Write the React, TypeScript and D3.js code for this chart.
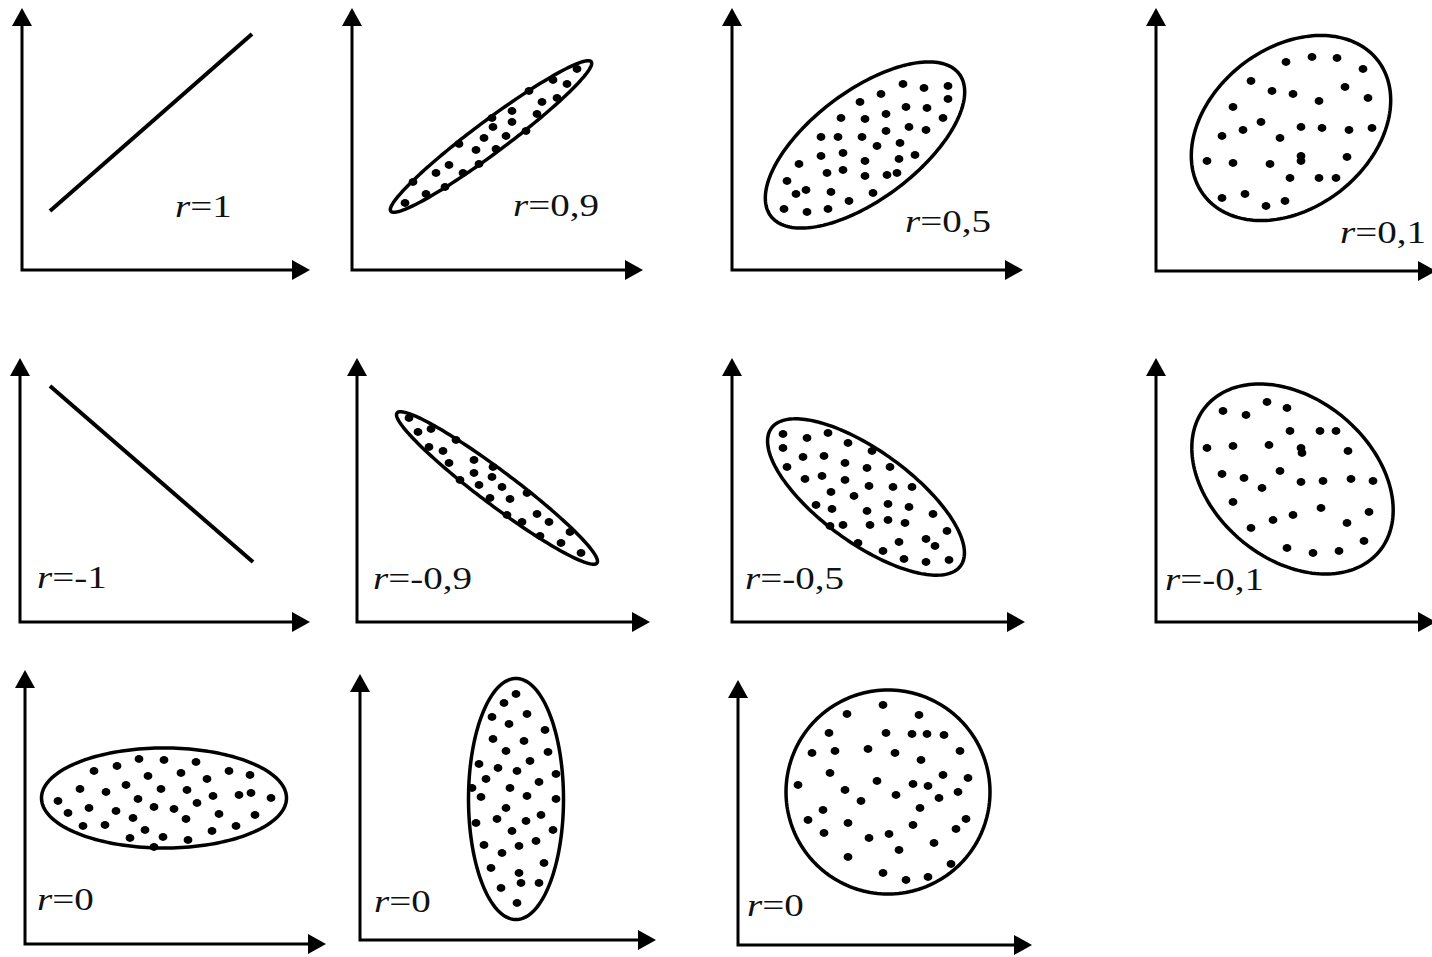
import * as d3 from "d3";

// Correlation coefficients shown under each scatter sketch
const labels = ["1", "0,9", "0,5", "0,1", "-1", "-0,9", "-0,5", "-0,1", "0", "0", "0"];

// Perfect correlation lines (panel-local units)
const lineR1: [number, number][] = [[28, 59], [230, 236]];
const lineRm1: [number, number][] = [[30, 236], [233, 60]];

// Envelopes: [cx, cy, semi-axis a, semi-axis b, angle in degrees]
const envR09 = [139, 133.5, 125, 16, 36.7];
const envR05 = [133, 125, 118, 54, 37];
const envR01 = [135, 143, 110, 80, 38];
const envRm09 = [140, 134, 125, 17, -36.9];
const envRm05 = [134, 125, 117, 46, -36];
const envRm01 = [136.5, 143, 113, 80, -40];
const envR0a = [139, 146, 122.5, 50, 0];
const envR0b = [156, 141, 47.5, 120.5, 0];
const envR0c = [150, 153, 102, 102, 0];

// Scatter points read from the sketches
const dotsR09: [number, number][] = [
  [225, 201], [201, 190], [215, 186], [177, 179], [190, 168], [205, 172], [160, 159],
  [140, 152], [185, 156], [160, 148], [141, 143], [174, 139], [154, 134], [132, 132],
  [107, 126], [124, 120], [144, 121], [127, 106], [97, 105], [84, 97], [111, 97],
  [61, 88], [93, 83], [74, 76], [53, 67],
];
const dotsR05: [number, number][] = [
  [171, 186], [192, 182], [216, 184], [149, 176], [216, 171], [128, 168], [174, 163],
  [195, 162], [154, 156], [211, 152], [109, 152], [133, 151], [177, 143], [194, 140],
  [154, 139], [89, 133], [106, 133], [130, 133], [145, 124], [168, 127], [111, 117],
  [89, 114], [183, 115], [167, 111], [133, 109], [67, 106], [111, 100], [95, 97],
  [133, 94], [155, 95], [165, 97], [55, 89], [74, 80], [64, 76], [99, 78], [141, 77],
  [117, 69], [52, 61], [75, 58], [96, 61],
];
const dotsR01: [number, number][] = [
  [130, 209], [156, 214], [181, 213], [207, 202], [95, 190], [116, 180], [137, 177],
  [189, 184], [212, 173], [163, 170], [77, 164], [105, 149], [87, 141], [145, 144],
  [166, 143], [193, 141], [216, 143], [66, 135], [124, 133], [145, 115], [145, 110],
  [191, 114], [51, 110], [77, 108], [114, 107], [134, 93], [163, 93], [180, 93],
  [66, 73], [89, 77], [110, 65], [129, 70],
];
const dotsRm09: [number, number][] = [
  [52, 204], [61, 190], [74, 193], [99, 182], [72, 175], [86, 171], [92, 159],
  [117, 162], [136, 155], [117, 149], [135, 145], [103, 142], [122, 137], [145, 135],
  [170, 129], [133, 124], [153, 123], [150, 107], [180, 108], [165, 100], [192, 100],
  [183, 86], [213, 90], [204, 79], [224, 69],
];
const dotsRm05: [number, number][] = [
  [51, 188], [75, 184], [96, 189], [116, 179], [51, 174], [71, 165], [92, 166],
  [140, 171], [55, 155], [113, 159], [135, 154], [158, 155], [73, 143], [90, 146],
  [113, 142], [137, 136], [161, 135], [180, 135], [99, 130], [122, 126], [84, 117],
  [100, 113], [156, 118], [177, 115], [135, 111], [201, 108], [156, 102], [173, 99],
  [98, 96], [111, 97], [138, 97], [215, 91], [126, 79], [167, 80], [194, 83],
  [203, 76], [151, 71], [172, 63], [194, 60], [217, 62],
];
const dotsRm01: [number, number][] = [
  [67, 211], [90, 207], [111, 220], [131, 214], [134, 191], [164, 191], [180, 191],
  [51, 174], [77, 176], [113, 177], [145, 174], [146, 169], [192, 171], [66, 148],
  [88, 144], [124, 151], [145, 140], [167, 141], [195, 143], [217, 141], [106, 134],
  [77, 120], [165, 114], [137, 107], [213, 110], [117, 102], [191, 99], [95, 94],
  [208, 81], [131, 74], [157, 69], [183, 71],
];
const dotsR0a: [number, number][] = [
  [114, 185], [139, 184], [171, 182], [69, 173], [92, 178], [123, 168], [156, 171],
  [182, 165], [204, 173], [225, 169], [55, 155], [81, 152], [101, 159], [136, 155],
  [162, 154], [188, 148], [214, 149], [226, 151], [246, 146], [33, 143], [113, 145],
  [172, 141], [43, 131], [64, 136], [91, 133], [129, 137], [149, 135], [194, 130],
  [230, 129], [108, 126], [161, 125], [58, 118], [80, 119], [120, 114], [187, 113],
  [211, 118], [105, 106], [138, 107], [163, 104], [129, 97],
];
const dotsR0b: [number, number][] = [
  [156, 246], [144, 237], [132, 223], [167, 226], [149, 216], [185, 210], [133, 201],
  [164, 199], [146, 189], [188, 188], [119, 176], [138, 172], [170, 179], [157, 169],
  [196, 166], [126, 161], [179, 158], [112, 152], [150, 152], [121, 143], [167, 144],
  [196, 141], [146, 132], [181, 125], [137, 121], [116, 117], [166, 119], [152, 109],
  [193, 110], [176, 99], [124, 95], [159, 94], [142, 87], [184, 77], [131, 72],
  [159, 67], [161, 57], [179, 57], [141, 52], [157, 37],
];
const dotsR0c: [number, number][] = [
  [145, 240], [109, 231], [181, 230], [91, 212], [148, 212], [174, 211], [189, 211],
  [206, 210], [74, 192], [97, 194], [130, 196], [157, 192], [222, 194], [183, 185],
  [92, 172], [205, 170], [230, 167], [60, 160], [139, 164], [175, 161], [190, 159],
  [107, 155], [158, 150], [220, 153], [201, 147], [123, 144], [182, 137], [85, 135],
  [70, 125], [228, 126], [110, 122], [175, 120], [218, 116], [86, 112], [151, 111],
  [131, 107], [196, 102], [161, 95], [110, 88], [213, 81], [145, 72], [168, 65],
  [190, 68],
];

type Panel = {
  ox: number; oy: number; xLen: number; yLen: number;
  lx: number; ly: number;
  line?: [number, number][];
  env?: number[];
  dots?: [number, number][];
};

// panel placement: origin, axis lengths, label anchor (local)
const panels: Panel[] = [
  { ox: 22, oy: 270, xLen: 288, yLen: 262, lx: 153, ly: 53, line: lineR1 },
  { ox: 352, oy: 270, xLen: 291, yLen: 262, lx: 161, ly: 54, env: envR09, dots: dotsR09 },
  { ox: 732, oy: 270, xLen: 291, yLen: 262, lx: 173, ly: 38, env: envR05, dots: dotsR05 },
  { ox: 1156, oy: 271, xLen: 280, yLen: 263, lx: 184, ly: 28, env: envR01, dots: dotsR01 },
  { ox: 20, oy: 622, xLen: 290, yLen: 264, lx: 17, ly: 34, line: lineRm1 },
  { ox: 357, oy: 622, xLen: 293, yLen: 264, lx: 16, ly: 33, env: envRm09, dots: dotsRm09 },
  { ox: 732, oy: 622, xLen: 293, yLen: 264, lx: 13, ly: 33, env: envRm05, dots: dotsRm05 },
  { ox: 1156, oy: 622, xLen: 280, yLen: 264, lx: 9, ly: 32, env: envRm01, dots: dotsRm01 },
  { ox: 25, oy: 944, xLen: 301, yLen: 274, lx: 12, ly: 34, env: envR0a, dots: dotsR0a },
  { ox: 360, oy: 940, xLen: 296, yLen: 266, lx: 14, ly: 28, env: envR0b, dots: dotsR0b },
  { ox: 738, oy: 945, xLen: 294, yLen: 265, lx: 9, ly: 29, env: envR0c, dots: dotsR0c },
];

const ARROW_L = 18;
const ARROW_W = 10;

function Sketch({ p, label }: { p: Panel; label: string }) {
  const x = d3.scaleLinear().domain([0, p.xLen]).range([p.ox, p.ox + p.xLen]);
  const y = d3.scaleLinear().domain([0, p.yLen]).range([p.oy, p.oy - p.yLen]);
  const line = d3.line<[number, number]>().x((d) => x(d[0])).y((d) => y(d[1]));

  let envPath: string | null = null;
  if (p.env) {
    const [cx, cy, a, b, deg] = p.env;
    const th = (deg * Math.PI) / 180;
    const pts: [number, number][] = d3.range(0, 360, 2).map((t) => {
      const r = (t * Math.PI) / 180;
      return [
        cx + a * Math.cos(r) * Math.cos(th) - b * Math.sin(r) * Math.sin(th),
        cy + a * Math.cos(r) * Math.sin(th) + b * Math.sin(r) * Math.cos(th),
      ];
    });
    envPath = line.curve(d3.curveLinearClosed)(pts);
  }

  const x0 = x(0), y0 = y(0), xt = x(p.xLen), yt = y(p.yLen);
  return (
    <g>
      <path
        d={`M${x0},${yt + ARROW_L}V${y0}H${xt - ARROW_L}`}
        fill="none"
        stroke="#000"
        strokeWidth={3}
      />
      <path d={`M${x0},${yt}L${x0 - ARROW_W},${yt + ARROW_L}L${x0 + ARROW_W},${yt + ARROW_L}Z`} fill="#000" />
      <path d={`M${xt},${y0}L${xt - ARROW_L},${y0 - ARROW_W}L${xt - ARROW_L},${y0 + ARROW_W}Z`} fill="#000" />
      {p.line && (
        <path d={d3.line<[number, number]>().x((d) => x(d[0])).y((d) => y(d[1]))(p.line)!} stroke="#000" strokeWidth={4} fill="none" />
      )}
      {envPath && <path d={envPath} fill="#fff" stroke="#000" strokeWidth={3.5} />}
      {p.dots &&
        p.dots.map((d, i) => <ellipse key={i} cx={x(d[0])} cy={y(d[1])} rx={4.4} ry={3.9} fill="#000" />)}
      <text
        transform={`translate(${x(p.lx)},${y(p.ly)}) scale(1.26,1)`}
        fontFamily="'Liberation Serif', 'Times New Roman', serif"
        fontSize={31}
        fill="#111"
      >
        <tspan fontStyle="italic">r</tspan>={label}
      </text>
    </g>
  );
}

export default function App() {
  return (
    <svg
      width={1432}
      height={957}
      style={{ position: "absolute", left: 0, top: 0, background: "#fff" }}
    >
      <rect width={1432} height={957} fill="#fff" />
      {panels.map((p, i) => (
        <Sketch key={i} p={p} label={labels[i]} />
      ))}
    </svg>
  );
}
